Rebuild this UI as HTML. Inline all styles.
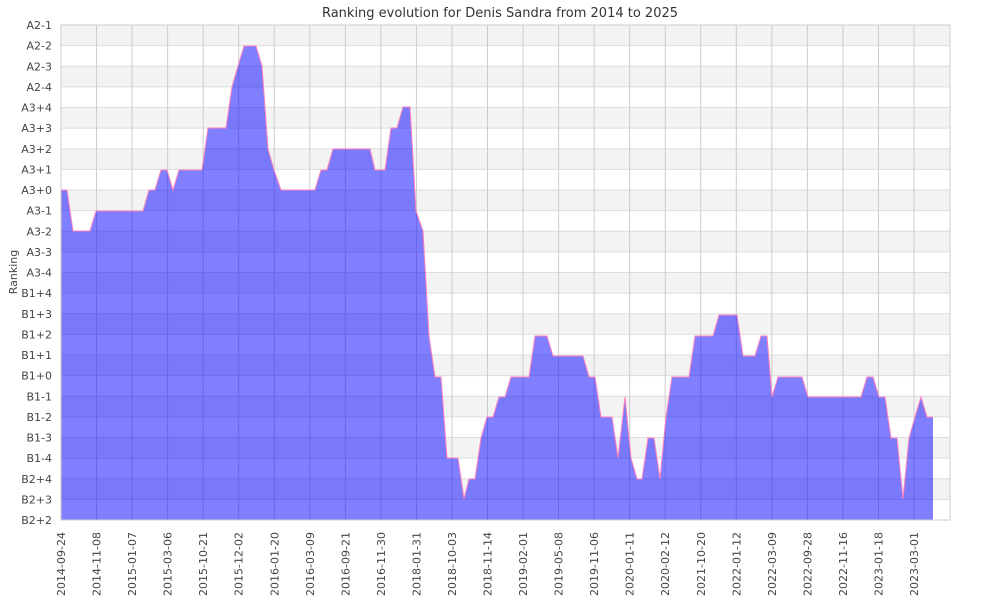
<!DOCTYPE html>
<html><head><meta charset="utf-8"><style>
html,body{margin:0;padding:0;background:#fff}
svg{display:block;font-family:"DejaVu Sans","Liberation Sans",sans-serif}
</style></head><body>
<svg width="1000" height="600" viewBox="0 0 1000 600" xmlns="http://www.w3.org/2000/svg">
<rect width="1000" height="600" fill="#fff"/>
<text x="500" y="17" text-anchor="middle" font-size="13" fill="#333">Ranking evolution for Denis Sandra from 2014 to 2025</text>
<g id="bands"></g>
<g id="grid"></g>
<polygon id="area" fill="rgba(0,0,255,0.5)" stroke="none"/>
<polyline id="line" fill="none" stroke="#ff7fbf" stroke-width="1"/>
<rect x="61" y="25" width="889" height="495" fill="none" stroke="#ccc" stroke-width="1"/>
<g id="ylab" font-size="11" fill="#444" text-anchor="end"></g>
<g id="xlab" font-size="11" fill="#444" text-anchor="end"></g>
<text transform="translate(17,272) rotate(-90)" text-anchor="middle" font-size="11" fill="#444">Ranking</text>
</svg>
<script>
var ns="http://www.w3.org/2000/svg";
function el(t,a,p,txt){var e=document.createElementNS(ns,t);for(var k in a)e.setAttribute(k,a[k]);if(txt)e.textContent=txt;document.getElementById(p).appendChild(e);}
var ylabs=["A2-1","A2-2","A2-3","A2-4","A3+4","A3+3","A3+2","A3+1","A3+0","A3-1","A3-2","A3-3","A3-4","B1+4","B1+3","B1+2","B1+1","B1+0","B1-1","B1-2","B1-3","B1-4","B2+4","B2+3","B2+2"];
var h=495/24;
for(var i=0;i<24;i++){if(i%2==0)el("rect",{x:61,y:25+i*h,width:889,height:h,fill:"#f3f3f3"},"bands");}
for(var i=0;i<25;i++){var y=25+i*h;el("line",{x1:61,x2:950,y1:y,y2:y,stroke:"#ddd","stroke-width":1},"grid");
el("text",{x:52,y:y+4},"ylab",ylabs[i]);}
var xlabs=["2014-09-24","2014-11-08","2015-01-07","2015-03-06","2015-10-21","2015-12-02","2016-01-20","2016-03-09","2016-09-21","2016-11-30","2018-01-31","2018-10-03","2018-11-14","2019-02-01","2019-05-08","2019-11-06","2020-01-11","2020-02-12","2021-10-20","2022-01-12","2022-03-09","2022-09-28","2022-11-16","2023-01-18","2023-03-01"];
var sx=(914-61)/24;
for(var i=0;i<25;i++){var x=61+i*sx;el("line",{x1:x,x2:x,y1:25,y2:520,stroke:"#ccc","stroke-width":1},"grid");
el("text",{transform:"translate("+(x+4)+",532) rotate(-90)"},"xlab",xlabs[i]);}
var pts=[[61,190],[67,190],[73,231],[90,231],[96,211],[143,211],[149,190],[155,190],[161,170],[167,170],[173,190],[179,170],[202,170],[208,128],[226,128],[232,87],[238,66],[244,46],[256,46],[262,66],[268,149],[274,170],[281,190],[315,190],[321,170],[327,170],[333,149],[370,149],[375,170],[385,170],[391,128],[397,128],[403,107],[410,107],[416,211],[423,231],[429,336],[435,377],[441,377],[447,458],[458,458],[464,499],[469,479],[475,479],[481,438],[487,417],[493,417],[499,397],[505,397],[511,377],[529,377],[535,336],[547,336],[553,356],[583,356],[589,377],[595,377],[601,417],[612,417],[618,458],[625,397],[631,458],[637,479],[642,479],[648,438],[654,438],[660,479],[666,417],[672,377],[689,377],[695,336],[713,336],[719,315],[737,315],[743,356],[755,356],[761,336],[767,336],[772,397],[778,377],[802,377],[808,397],[861,397],[867,377],[873,377],[879,397],[885,397],[891,438],[897,438],[903,499],[909,438],[915,417],[921,397],[927,417],[933,417]];
var s=pts.map(function(p){return p[0]+","+p[1]}).join(" ");
document.getElementById("line").setAttribute("points",s);
document.getElementById("area").setAttribute("points",s+" 933,520 61,520");
</script>
</body></html>
